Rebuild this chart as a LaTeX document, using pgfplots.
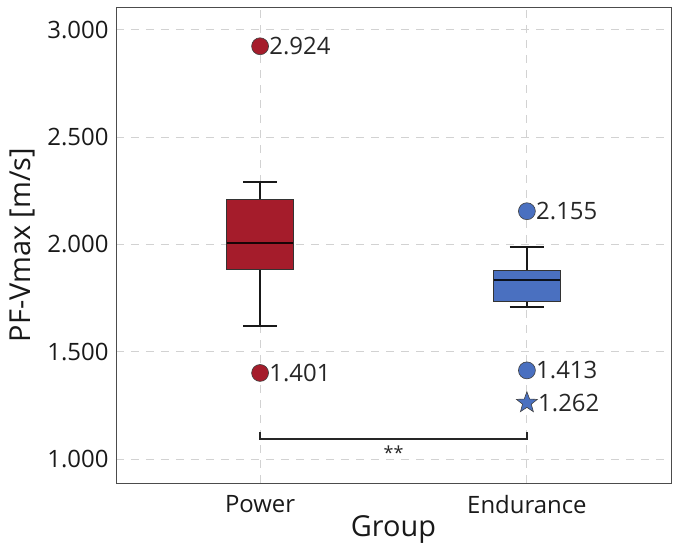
\documentclass[border=0pt]{standalone}
\usepackage{pgfplots}
\pgfplotsset{compat=1.18}
\usepgfplotslibrary{statistics}
\usepackage{fontspec}
\setmainfont{Open Sans}
\definecolor{pred}{RGB}{165,28,43}
\definecolor{eblue}{RGB}{74,112,192}
\pgfdeclareplotmark{fstar}{%
  \pgfpathmoveto{\pgfqpointpolar{90}{\pgfplotmarksize}}%
  \pgfpathlineto{\pgfqpointpolar{126}{0.42\pgfplotmarksize}}%
  \pgfpathlineto{\pgfqpointpolar{162}{\pgfplotmarksize}}%
  \pgfpathlineto{\pgfqpointpolar{198}{0.42\pgfplotmarksize}}%
  \pgfpathlineto{\pgfqpointpolar{234}{\pgfplotmarksize}}%
  \pgfpathlineto{\pgfqpointpolar{270}{0.42\pgfplotmarksize}}%
  \pgfpathlineto{\pgfqpointpolar{306}{\pgfplotmarksize}}%
  \pgfpathlineto{\pgfqpointpolar{342}{0.42\pgfplotmarksize}}%
  \pgfpathlineto{\pgfqpointpolar{18}{\pgfplotmarksize}}%
  \pgfpathlineto{\pgfqpointpolar{54}{0.42\pgfplotmarksize}}%
  \pgfpathclose
  \pgfusepathqfillstroke}
\begin{document}
\begin{tikzpicture}
\begin{axis}[name=ax, scale only axis, width=555bp, height=476bp,
  boxplot/draw direction=y,
  xmin=0.46, xmax=2.54, ymin=0.888, ymax=3.107,
  xtick={1,2}, xticklabels={Power,Endurance},
  ytick={1,1.5,2,2.5,3},
  ticklabel style={font=\fontsize{24}{26}\selectfont, text=black!90},
  yticklabel style={xshift=-4bp, /pgf/number format/.cd, fixed, fixed zerofill, precision=3, assume math mode=true},
  xticklabel style={yshift=-9bp},
  xlabel={Group}, ylabel={PF-Vmax [m/s]},
  label style={font=\fontsize{29}{32}\selectfont, text=black!90},
  xlabel style={yshift=5bp},
  ylabel style={yshift=6bp},
  grid=major, major grid style={dash pattern=on 8bp off 7bp, gray!35, line width=0.9pt},
  axis line style={black!70, line width=0.9pt},
  tick style={draw=none},
  nodes near coords style={anchor=west, inner sep=0pt, xshift=9bp, font=\fontsize{24}{26}\selectfont, text=black!85},
]
% Power box
\addplot[fill=pred, draw=black!80, line width=0.8pt,
  boxplot prepared={draw position=1, median=2.007, upper quartile=2.208, lower quartile=1.882,
    upper whisker=2.292, lower whisker=1.621, box extend=0.25, whisker extend=0.127,
    every whisker/.style={line width=1.8pt, black!90},
    every median/.style={line width=1.8pt, black!85!pred}}] coordinates {};
% Endurance box
\addplot[fill=eblue, draw=black!80, line width=0.8pt,
  boxplot prepared={draw position=2, median=1.835, upper quartile=1.877, lower quartile=1.733,
    upper whisker=1.989, lower whisker=1.71, box extend=0.25, whisker extend=0.127,
    every whisker/.style={line width=1.8pt, black!90},
    every median/.style={line width=1.8pt, black!85!eblue}}] coordinates {};
% outliers
\addplot[only marks, mark=*, mark size=8.5pt, mark options={fill=pred, draw=black!75, line width=0.6pt},
  nodes near coords, point meta=explicit symbolic] table[meta=label] {
x y label
1 2.924 2.924
1 1.401 1.401
};
\addplot[only marks, mark=*, mark size=8.5pt, mark options={fill=eblue, draw=black!75, line width=0.6pt},
  nodes near coords, point meta=explicit symbolic] table[meta=label] {
x y label
2 2.155 2.155
2 1.413 1.413
};
\addplot[only marks, mark=fstar, mark size=11pt, mark options={fill=eblue, draw=black!75, line width=0.6pt},
  nodes near coords, point meta=explicit symbolic, nodes near coords style={xshift=2bp}] table[meta=label] {
x y label
2 1.262 1.262
};
% significance bracket
\addplot[black!85, line width=1.5pt] coordinates {(1,1.125) (1,1.094) (2,1.094) (2,1.125)};
\node[font=\fontsize{18}{20}\selectfont, text=black!85] at (axis cs:1.5,1.03) {**};
\end{axis}
\pgfresetboundingbox
\path ([xshift=-116bp,yshift=-68bp]ax.south west) rectangle ([xshift=7bp,yshift=7bp]ax.north east);
\end{tikzpicture}
\end{document}
